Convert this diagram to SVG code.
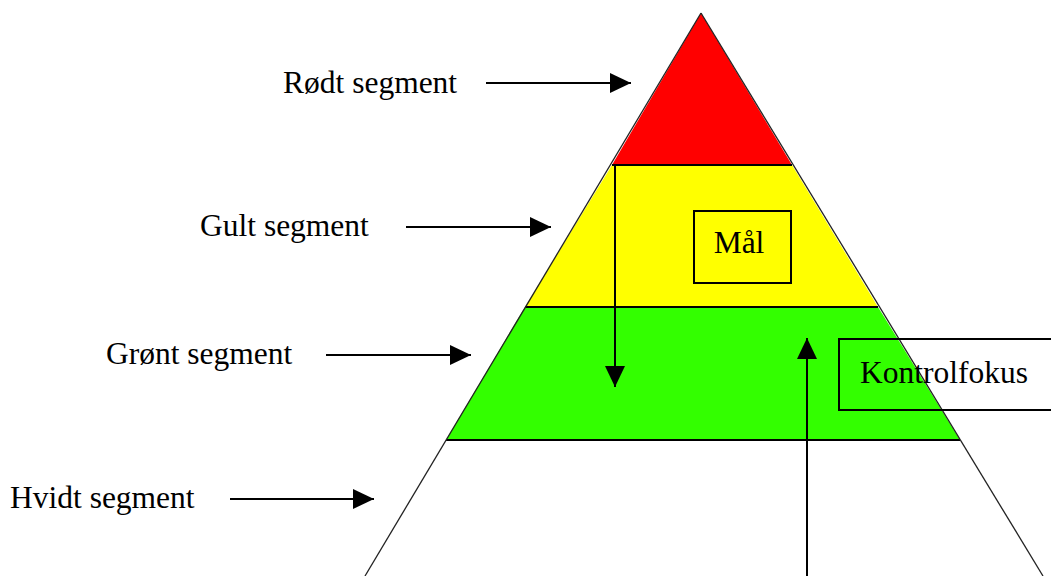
<svg xmlns="http://www.w3.org/2000/svg" width="1051" height="576" viewBox="0 0 1051 576">
<defs>
<marker id="ah" markerWidth="21" markerHeight="20" refX="21" refY="10" orient="auto" markerUnits="userSpaceOnUse">
<path d="M0,0 L21,10 L0,20 Z" fill="#000"/>
</marker>
<style>
.lbl{font-family:"Liberation Serif","Times New Roman",serif;font-size:31.5px;fill:#000}
.edge{stroke:#000;stroke-width:2;fill:none}
.con{stroke:#000;stroke-width:2;fill:none;marker-end:url(#ah)}
.side{stroke:#222;stroke-width:1.3;fill:none}
.box{stroke:#000;stroke-width:2;fill:none}
</style>
</defs>
<rect width="1051" height="576" fill="#fff"/>
<g id="pyramid">
<g id="red-segment">
<polygon points="701,13 612,165 792,165" fill="#ff0000"/>
</g>
<g id="yellow-segment">
<polygon points="612,165 792,165 878,307 525,307" fill="#ffff00"/>
</g>
<g id="green-segment">
<polygon points="525,307 878,307 960,440 446,440" fill="#33ff00"/>
</g>
<g id="white-segment">
<polygon points="446,440 960,440 1043,576 365,576" fill="#fff"/>
</g>
<line class="edge" x1="612" y1="165" x2="792" y2="165"/>
<line class="edge" x1="525" y1="307" x2="878" y2="307"/>
<line class="edge" x1="446" y1="440" x2="960" y2="440"/>
<line class="side" x1="701" y1="13" x2="365" y2="576"/>
<line class="side" x1="701" y1="13" x2="1043" y2="576"/>
</g>
<g id="maal">
<rect class="box" x="694" y="211" width="97" height="72"/>
<text class="lbl" x="739" y="253" text-anchor="middle">Mål</text>
</g>
<g id="kontrolfokus">
<rect class="box" x="839" y="339" width="230" height="71"/>
<text class="lbl" x="860" y="383">Kontrolfokus</text>
</g>
<g id="labels">
<text class="lbl" x="283" y="93">Rødt segment</text>
<text class="lbl" x="200" y="236">Gult segment</text>
<text class="lbl" x="106" y="364">Grønt segment</text>
<text class="lbl" x="10" y="508">Hvidt segment</text>
</g>
<g id="connectors">
<line class="con" x1="486" y1="83" x2="631" y2="83"/>
<line class="con" x1="406" y1="227" x2="551" y2="227"/>
<line class="con" x1="326" y1="355" x2="471" y2="355"/>
<line class="con" x1="230" y1="499" x2="374" y2="499"/>
<line class="con" x1="615" y1="165" x2="615" y2="387"/>
<line class="con" x1="807" y1="576" x2="807" y2="338"/>
</g>
</svg>
